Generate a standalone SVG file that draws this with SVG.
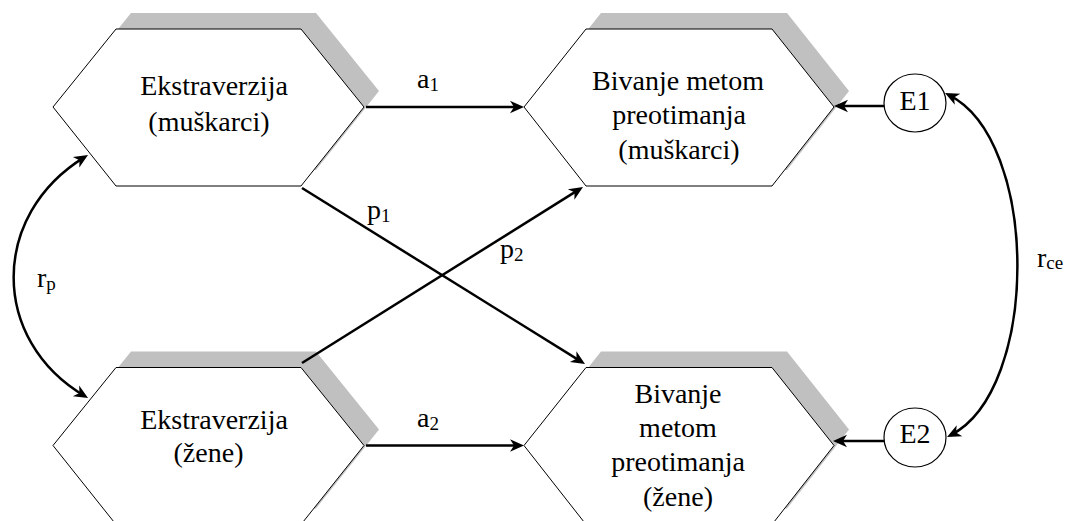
<svg xmlns="http://www.w3.org/2000/svg" width="1066" height="521" viewBox="0 0 1066 521">
<style>
  .shadow { fill: #c0c0c0; stroke: none; }
  .hex { fill: #ffffff; stroke: #000000; stroke-width: 1; }
  .ell { fill: #ffffff; stroke: #000000; stroke-width: 1.2; }
  text { font-family: "Liberation Serif", "Times New Roman", Times, serif; font-size: 28px; fill: #000000; }
  .ct { text-anchor: middle; }
  .sub { font-size: 19px; }
  .con { fill: none; stroke: #000000; stroke-width: 2.5; }
</style>
<defs>
  <marker id="arr" viewBox="0 0 16 14" markerWidth="16" markerHeight="14" refX="11" refY="7" orient="auto" markerUnits="userSpaceOnUse">
    <path d="M1,0.8 L15,7 L1,13.2 L5,7 Z" fill="#000000"/>
  </marker>
  <marker id="arrS" viewBox="0 0 16 14" markerWidth="16" markerHeight="14" refX="11" refY="7" orient="auto-start-reverse" markerUnits="userSpaceOnUse">
    <path d="M1,0.8 L15,7 L1,13.2 L5,7 Z" fill="#000000"/>
  </marker>
</defs>

<g id="node-ekstra-m">
  <polygon class="shadow" points="131,13 316,13 379,91 316,170 131,170 68,91"/>
  <polygon class="hex" points="116,29 301,29 364,107 301,186 116,186 53,107"/>
  <text class="ct" x="214" y="95">Ekstraverzija</text>
  <text class="ct" x="209" y="131">(muškarci)</text>
</g>

<g id="node-bivanje-m">
  <polygon class="shadow" points="601,13 787,13 849,91 787,170 601,170 539,91"/>
  <polygon class="hex" points="586,29 772,29 834,107 772,186 586,186 524,107"/>
  <text class="ct" x="678" y="90">Bivanje metom</text>
  <text class="ct" x="679" y="124.3">preotimanja</text>
  <text class="ct" x="679" y="158.6">(muškarci)</text>
</g>

<g id="node-ekstra-z">
  <polygon class="shadow" points="131,351.5 316,351.5 379,429.5 316,508.5 131,508.5 68,429.5"/>
  <polygon class="hex" points="116,367.5 301,367.5 364,445.5 301,524.5 116,524.5 53,445.5"/>
  <text class="ct" x="214" y="428.5">Ekstraverzija</text>
  <text class="ct" x="208.5" y="462">(žene)</text>
</g>

<g id="node-bivanje-z">
  <polygon class="shadow" points="601,351.5 787,351.5 849,429.5 787,508.5 601,508.5 539,429.5"/>
  <polygon class="hex" points="586,367.5 772,367.5 834,445.5 772,524.5 586,524.5 524,445.5"/>
  <text class="ct" x="678" y="402.7">Bivanje</text>
  <text class="ct" x="678" y="437">metom</text>
  <text class="ct" x="678" y="471.3">preotimanja</text>
  <text class="ct" x="678" y="505.6">(žene)</text>
</g>

<g id="node-e1">
  <ellipse class="ell" cx="915" cy="103" rx="31" ry="29"/>
  <text class="ct" x="915" y="109.5">E1</text>
</g>

<g id="node-e2">
  <ellipse class="ell" cx="915" cy="437.5" rx="31" ry="29.5"/>
  <text class="ct" x="915" y="443">E2</text>
</g>

<g id="connectors">
  <line class="con" x1="366" y1="107" x2="520" y2="107" marker-end="url(#arr)"/>
  <line class="con" x1="366" y1="445.5" x2="520" y2="445.5" marker-end="url(#arr)"/>
  <line class="con" x1="302" y1="188" x2="581.6" y2="361.9" marker-end="url(#arr)"/>
  <line class="con" x1="302" y1="363" x2="579.6" y2="189.1" marker-end="url(#arr)"/>
  <line class="con" x1="884" y1="106" x2="838" y2="106" marker-end="url(#arr)"/>
  <line class="con" x1="884" y1="441" x2="837" y2="441" marker-end="url(#arr)"/>
  <path class="con" d="M84.6,157.1 C-10,215 -10,340 84.6,396" marker-start="url(#arrS)" marker-end="url(#arr)"/>
  <path class="con" d="M948.6,94.8 C1040,140 1040,390 950.6,435.2" marker-start="url(#arrS)" marker-end="url(#arr)"/>
</g>

<g id="labels">
  <text x="417" y="88">a<tspan class="sub" dy="3">1</tspan></text>
  <text x="417" y="426.5">a<tspan class="sub" dy="3">2</tspan></text>
  <text x="367" y="219">p<tspan class="sub" dy="3">1</tspan></text>
  <text x="500" y="258">p<tspan class="sub" dy="3">2</tspan></text>
  <text x="37" y="286.7">r<tspan class="sub" dy="3">p</tspan></text>
  <text x="1037" y="266.7">r<tspan class="sub" dy="2">ce</tspan></text>
</g>
</svg>
